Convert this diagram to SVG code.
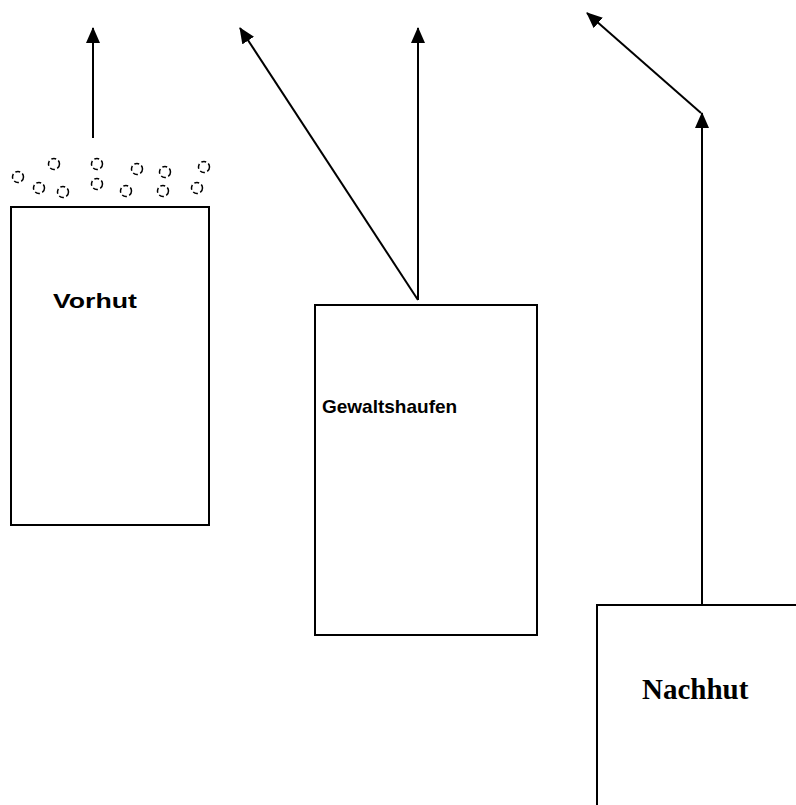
<svg xmlns="http://www.w3.org/2000/svg" width="796" height="805" viewBox="0 0 796 805">
<style>
.box{fill:#fff;stroke:#000;stroke-width:2}
.conn{stroke:#000;stroke-width:2;fill:none}
.dot{fill:none;stroke:#000;stroke-width:1.5;stroke-dasharray:5 2.5}
.sans{font-family:"Liberation Sans",Arial,sans-serif;font-weight:bold;fill:#000}
.serif{font-family:"Liberation Serif","Times New Roman",serif;font-weight:bold;fill:#000}
</style>
<defs>
<marker id="ah" viewBox="0 0 16 14" refX="15" refY="7" markerWidth="16" markerHeight="14" markerUnits="userSpaceOnUse" orient="auto">
<path d="M0,0 L16,7 L0,14 z" fill="#000"/>
</marker>
</defs>
<rect width="796" height="805" fill="#fff"/>
<g id="vorhut">
<rect class="box" x="11" y="207" width="198" height="318"/>
<text class="sans" x="53" y="308" font-size="21" textLength="84" lengthAdjust="spacingAndGlyphs">Vorhut</text>
</g>
<g id="soldiers">
<circle class="dot" cx="18" cy="177" r="5.5"/>
<circle class="dot" cx="54" cy="164" r="5.5"/>
<circle class="dot" cx="39" cy="188" r="5.5"/>
<circle class="dot" cx="63" cy="192" r="5.5"/>
<circle class="dot" cx="97" cy="164" r="5.5"/>
<circle class="dot" cx="97" cy="184" r="5.5"/>
<circle class="dot" cx="137" cy="169" r="5.5"/>
<circle class="dot" cx="126" cy="191" r="5.5"/>
<circle class="dot" cx="165" cy="172" r="5.5"/>
<circle class="dot" cx="163" cy="191" r="5.5"/>
<circle class="dot" cx="204" cy="167" r="5.5"/>
<circle class="dot" cx="197" cy="188" r="5.5"/>
</g>
<g id="gewaltshaufen">
<rect class="box" x="315" y="305" width="222" height="330"/>
<text class="sans" x="322" y="413" font-size="19">Gewaltshaufen</text>
</g>
<g id="nachhut">
<rect class="box" x="597" y="605" width="220" height="220"/>
<text class="serif" x="642" y="699" font-size="29">Nachhut</text>
</g>
<g id="connectors">
<line class="conn" x1="93" y1="138" x2="93" y2="28" marker-end="url(#ah)"/>
<line class="conn" x1="418" y1="300" x2="240" y2="28" marker-end="url(#ah)"/>
<line class="conn" x1="418" y1="300" x2="418" y2="28" marker-end="url(#ah)"/>
<line class="conn" x1="702" y1="605" x2="702" y2="113" marker-end="url(#ah)"/>
<line class="conn" x1="701" y1="113" x2="587" y2="13" marker-end="url(#ah)"/>
</g>
</svg>
